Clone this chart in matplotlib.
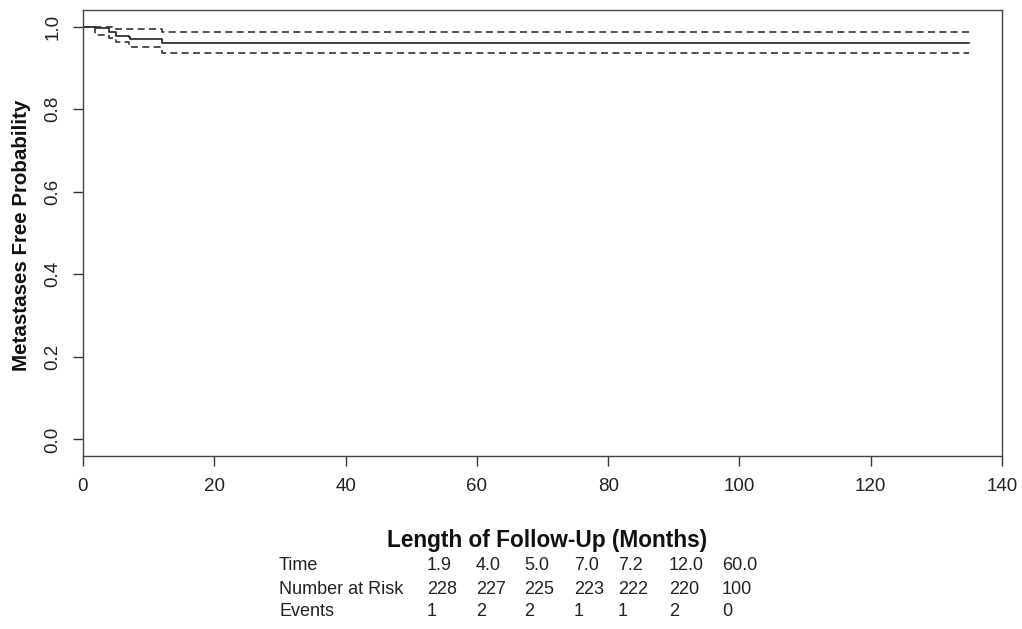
import matplotlib
matplotlib.use("Agg")
import matplotlib.pyplot as plt

# ---- data ----
step_times = [0.0, 1.9, 4.0, 5.0, 7.0, 7.2, 12.0]
end_time = 135.0
surv = [1.0, 0.9956, 0.9868, 0.9781, 0.9737, 0.9693, 0.9605]
upper_times = [0.0, 5.0, 12.0]
upper = [1.0, 0.993, 0.987]
lower_times = [0.0, 1.9, 4.0, 5.0, 7.0, 12.0]
lower = [1.0, 0.980, 0.972, 0.962, 0.951, 0.936]

table_times = ["1.9", "4.0", "5.0", "7.0", "7.2", "12.0", "60.0"]
table_risk = ["228", "227", "225", "223", "222", "220", "100"]
table_events = ["1", "2", "2", "1", "1", "2", "0"]
row_labels = ["Time", "Number at Risk", "Events"]

x_ticks = [0, 20, 40, 60, 80, 100, 120, 140]
y_ticks = [0.0, 0.2, 0.4, 0.6, 0.8, 1.0]

plt.rcParams['font.family'] = ['Liberation Sans', 'DejaVu Sans']

W, H = 1022, 629
fig = plt.figure(figsize=(W / 100, H / 100), dpi=100)
ax = fig.add_axes([83 / W, 1 - 456 / H, (1002 - 83) / W, (456 - 10) / H])

def ext(t, v):
    return list(t) + [end_time], list(v) + [v[-1]]

dash = (0, (4.2, 2.6))
t, v = ext(step_times, surv)
ax.step(t, v, where='post', color='#222222', lw=1.2)
t, v = ext(upper_times, upper)
ax.step(t, v, where='post', color='#333333', lw=1.2, linestyle=dash)
t, v = ext(lower_times, lower)
ax.step(t, v, where='post', color='#333333', lw=1.2, linestyle=dash)

ax.set_xlim(0, 140)
ax.set_ylim(-0.04, 1.04)
ax.set_xticks(x_ticks)
ax.set_yticks(y_ticks)
ax.set_xticklabels([str(x) for x in x_ticks])
ax.set_yticklabels([f"{y:.1f}" for y in y_ticks], rotation=90, va='center')
ax.tick_params(axis='both', direction='out', length=7.5, width=1, labelsize=13.5,
               color='#333333', labelcolor='#222222')
ax.tick_params(axis='x', pad=8)
ax.tick_params(axis='y', pad=8)
for s in ax.spines.values():
    s.set_color('#444444')
    s.set_linewidth(1.0)

fig.text(22 / W, 1 - 235 / H, "Metastases Free Probability", rotation=90,
         ha='center', va='center', fontsize=14.8, fontweight='bold', color='#111111')
fig.text(547 / W, 1 - 540 / H, "Length of Follow-Up (Months)", ha='center',
         va='center', fontsize=16.3, fontweight='bold', color='#111111')

col_x = [427, 476, 524, 574, 618, 669, 722]
row_y = [566, 589, 612]
for lbl, y in zip(row_labels, row_y):
    fig.text(279 / W, 1 - y / H, lbl, ha='left', va='center', fontsize=13,
             color='#222222')
for row, y in zip([table_times, table_risk, table_events], row_y):
    for val, x in zip(row, col_x):
        fig.text(x / W, 1 - y / H, val, ha='left', va='center', fontsize=13,
                 color='#222222')

fig.savefig("out.png", dpi=100)
